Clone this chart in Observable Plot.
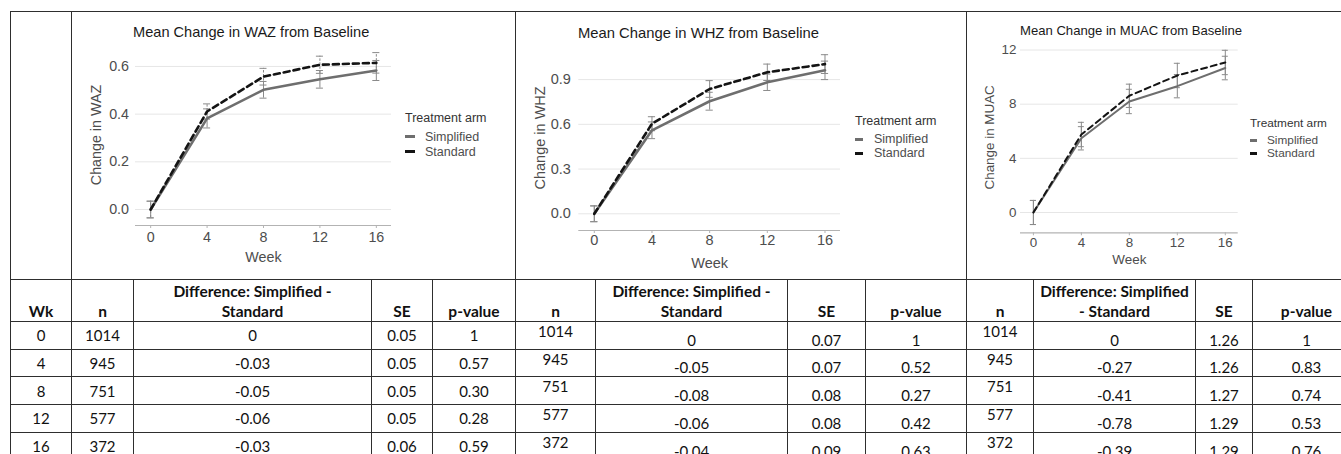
<!DOCTYPE html>
<html>
<head>
<meta charset="utf-8">
<script src="https://cdn.jsdelivr.net/npm/d3@7"></script>
<script src="https://cdn.jsdelivr.net/npm/@observablehq/plot@0.6"></script>
<style>
html, body { margin: 0; padding: 0; background: #fff; }
#page { position: relative; width: 1341px; height: 454px; overflow: hidden; background: #fff; }
table.grid { position: absolute; left: 10px; top: 11px; border-collapse: collapse; table-layout: fixed;
  font-family: Lato, "Open Sans", sans-serif; color: #111; }
table.grid td { border: 1px solid #2e2e2e; padding: 0; text-align: center; font-size: 15px; line-height: 18px; overflow: hidden; white-space: nowrap; }
table.grid tr.head td { font-weight: bold; vertical-align: bottom; line-height: 20px; font-size: 15.5px; }
table.grid td.mid { vertical-align: middle; }
table.grid td.top { vertical-align: top; }
table.grid td.bot { vertical-align: bottom; }
.chart { position: absolute; }
.chart svg { display: block; background: transparent; }
.ctitle { position: absolute; font-family: "Liberation Sans", Arial, sans-serif; color: #1a1a1a; line-height: 18px; white-space: nowrap; }
.legend { position: absolute; font-family: "Liberation Sans", Arial, sans-serif; white-space: nowrap; }
.legend .lt { color: #333; }
.legend .li { color: #4d4d4d; display: flex; align-items: center; }
.legend .key { display: inline-block; }
</style>
</head>
<body>
<div id="page"></div>
<script>
// ---------- data ----------
const weeks = [0, 4, 8, 12, 16];
const arms = ["Simplified", "Standard"];

const wazSimplified    = [0, 0.382, 0.502, 0.546, 0.583];
const wazStandard      = [0, 0.411, 0.557, 0.607, 0.615];
const wazSimplifiedErr = [0.035, 0.040, 0.035, 0.037, 0.042];
const wazStandardErr   = [0.035, 0.032, 0.035, 0.036, 0.043];
const wazTicks = [0, 0.2, 0.4, 0.6];

const whzSimplified    = [0, 0.560, 0.755, 0.882, 0.962];
const whzStandard      = [0, 0.604, 0.837, 0.949, 1.004];
const whzSimplifiedErr = [0.053, 0.056, 0.060, 0.055, 0.062];
const whzStandardErr   = [0.053, 0.047, 0.056, 0.055, 0.063];
const whzTicks = [0, 0.3, 0.6, 0.9];

const muacSimplified    = [0, 5.48, 8.20, 9.33, 10.67];
const muacStandard      = [0, 5.76, 8.62, 10.12, 11.08];
const muacSimplifiedErr = [0.89, 0.86, 0.90, 0.86, 0.87];
const muacStandardErr   = [0.89, 0.90, 0.86, 0.90, 0.90];
const muacTicks = [0, 4, 8, 12];

// table
const tableWeeks = ["0", "4", "8", "12", "16"];
const nCounts = ["1014", "945", "751", "577", "372"];
const wazDiff = ["0", "-0.03", "-0.05", "-0.06", "-0.03"];
const wazSE   = ["0.05", "0.05", "0.05", "0.05", "0.06"];
const wazP    = ["1", "0.57", "0.30", "0.28", "0.59"];
const whzDiff = ["0", "-0.05", "-0.08", "-0.06", "-0.04"];
const whzSE   = ["0.07", "0.07", "0.08", "0.08", "0.09"];
const whzP    = ["1", "0.52", "0.27", "0.42", "0.63"];
const muacDiff = ["0", "-0.27", "-0.41", "-0.78", "-0.39"];
const muacSE   = ["1.26", "1.26", "1.27", "1.29", "1.29"];
const muacP    = ["1", "0.83", "0.74", "0.53", "0.76"];

const headWk = "Wk", headN = "n", headSE = "SE", headP = "p-value";
const headDiffA = ["Difference: Simplified -", "Standard"];
const headDiffB = ["Difference: Simplified", "- Standard"];

// ---------- layout ----------
const colWidths = [61, 62, 238, 61, 83, 80, 192, 78, 101, 67, 162, 57, 108];
const page = document.getElementById("page");

const table = document.createElement("table");
table.className = "grid";
table.style.width = colWidths.reduce((a, b) => a + b, 0) + "px";
const cg = document.createElement("colgroup");
colWidths.forEach(w => { const c = document.createElement("col"); c.style.width = w + "px"; cg.appendChild(c); });
table.appendChild(cg);

function tr(h, cls) { const r = document.createElement("tr"); r.style.height = h + "px"; if (cls) r.className = cls; table.appendChild(r); return r; }
function td(r, html, cls, span) { const c = document.createElement("td"); c.innerHTML = html; if (cls) c.className = cls; if (span) c.colSpan = span; r.appendChild(c); return c; }

const r0 = tr(268);
td(r0, ""); td(r0, "", null, 4); td(r0, "", null, 4); td(r0, "", null, 4);

const rh = tr(42, "head");
td(rh, headWk);
td(rh, headN); td(rh, headDiffA.join("<br>")); td(rh, headSE); td(rh, headP);
td(rh, headN); td(rh, headDiffA.join("<br>")); td(rh, headSE); td(rh, headP);
td(rh, headN); td(rh, headDiffB.join("<br>")); td(rh, headSE); td(rh, headP);

const rowH = [27.5, 27.7, 27.7, 27.7, 28];
tableWeeks.forEach((wk, i) => {
  const r = tr(rowH[i]);
  td(r, wk, "mid");
  td(r, nCounts[i], "mid"); td(r, wazDiff[i], "mid"); td(r, wazSE[i], "mid"); td(r, wazP[i], "mid");
  td(r, nCounts[i], "top"); td(r, whzDiff[i], "bot"); td(r, whzSE[i], "bot"); td(r, whzP[i], "bot");
  td(r, nCounts[i], "top"); td(r, muacDiff[i], "bot"); td(r, muacSE[i], "bot"); td(r, muacP[i], "bot");
});
page.appendChild(table);

// ---------- charts ----------
const charts = [
  {
    title: "Mean Change in WAZ from Baseline", ylabel: "Change in WAZ",
    simp: wazSimplified, std: wazStandard, simpErr: wazSimplifiedErr, stdErr: wazStandardErr,
    ticks: wazTicks, fmt: d3.format(".1f"), ydomain: [-0.067, 0.692], stdErrDash: "2.5,1.5",
    left: 72, top: 12, width: 330, height: 266, ml: 63, mr: 11, mt: 32, mb: 53,
    font: 14.3, yPad: 6.5, xTickPad: 3, yLabelOffset: 45, xLabelOffset: 36, lineW: 2.6,
    titleLeft: 133, titleTop: 22.5, titleSize: 14.6,
    legLeft: 405, legTop: 110, legSize: 12.5, legRow: 15, keyW: 10, textGap: 10
  },
  {
    title: "Mean Change in WHZ from Baseline", ylabel: "Change in WHZ",
    simp: whzSimplified, std: whzStandard, simpErr: whzSimplifiedErr, stdErr: whzStandardErr,
    ticks: whzTicks, fmt: d3.format(".1f"), ydomain: [-0.112, 1.13], stdErrDash: null,
    left: 516, top: 12, width: 334, height: 266, ml: 62.3, mr: 10, mt: 32.8, mb: 48,
    font: 14.5, yPad: 8, xTickPad: 1.5, yLabelOffset: 44.3, xLabelOffset: 37, lineW: 2.6,
    titleLeft: 578, titleTop: 23.8, titleSize: 14.8,
    legLeft: 855, legTop: 113, legSize: 12.5, legRow: 14.3, keyW: 8, textGap: 11
  },
  {
    title: "Mean Change in MUAC from Baseline", ylabel: "Change in MUAC",
    simp: muacSimplified, std: muacStandard, simpErr: muacSimplifiedErr, stdErr: muacStandardErr,
    ticks: muacTicks, fmt: d3.format("d"), ydomain: [-1.5, 12.6], stdErrDash: null,
    left: 967, top: 12, width: 281, height: 266, ml: 53, mr: 10.3, mt: 29.4, mb: 45.7,
    font: 13.4, yPad: 4, xTickPad: 2, yLabelOffset: 36, xLabelOffset: 31, lineW: 2,
    titleLeft: 1020, titleTop: 21.6, titleSize: 13.1,
    legLeft: 1250, legTop: 114.5, legSize: 11.8, legRow: 13.3, keyW: 7, textGap: 10
  }
];

const cap = 0.25;

charts.forEach(c => {
  const rows = weeks.flatMap((w, i) => [
    {week: w, arm: arms[0], mean: c.simp[i], err: c.simpErr[i]},
    {week: w, arm: arms[1], mean: c.std[i], err: c.stdErr[i]}
  ]);
  const simp = rows.filter(d => d.arm === arms[0]);
  const std = rows.filter(d => d.arm === arms[1]);
  const ebColor = "#8a8a8a";
  const errorBars = (data, dash) => [
    Plot.ruleX(data, {x: "week", y1: d => d.mean - d.err, y2: d => d.mean + d.err, stroke: ebColor, strokeWidth: 1, strokeDasharray: dash}),
    Plot.ruleY(data, {y: d => d.mean - d.err, x1: d => d.week - cap, x2: d => d.week + cap, stroke: ebColor, strokeWidth: 1}),
    Plot.ruleY(data, {y: d => d.mean + d.err, x1: d => d.week - cap, x2: d => d.week + cap, stroke: ebColor, strokeWidth: 1})
  ];
  const svg = Plot.plot({
    width: c.width, height: c.height,
    marginLeft: c.ml, marginRight: c.mr, marginTop: c.mt, marginBottom: c.mb,
    style: {fontFamily: "'Liberation Sans', Arial, sans-serif", fontSize: c.font + "px", background: "transparent", color: "#4d4d4d"},
    x: {domain: [-1.075, 17.075]},
    y: {domain: c.ydomain},
    marks: [
      Plot.gridY(c.ticks, {stroke: "#e6e6e6", strokeOpacity: 1, strokeWidth: 1}),
      Plot.ruleY([c.ydomain[0]], {stroke: "#b3b3b3", strokeWidth: 1.2}),
      Plot.axisY({ticks: c.ticks, tickFormat: c.fmt, tickSize: 0, tickPadding: c.yPad, fontSize: c.font, fill: "#4d4d4d",
        label: c.ylabel, labelAnchor: "center", labelArrow: "none", labelOffset: c.yLabelOffset}),
      Plot.axisX({ticks: weeks, tickFormat: d3.format("d"), tickSize: 3, tickPadding: c.xTickPad, stroke: "#b3b3b3", fontSize: c.font, fill: "#4d4d4d",
        label: "Week", labelAnchor: "center", labelArrow: "none", labelOffset: c.xLabelOffset}),
      ...errorBars(simp, null),
      ...errorBars(std, c.stdErrDash),
      Plot.line(simp, {x: "week", y: "mean", stroke: "#6e6e6e", strokeWidth: c.lineW}),
      Plot.line(std, {x: "week", y: "mean", stroke: "#141414", strokeWidth: c.lineW, strokeDasharray: "6,4"})
    ]
  });
  const box = document.createElement("div");
  box.className = "chart";
  box.style.left = c.left + "px"; box.style.top = c.top + "px";
  box.appendChild(svg);
  page.appendChild(box);

  const t = document.createElement("div");
  t.className = "ctitle";
  t.style.left = c.titleLeft + "px"; t.style.top = c.titleTop + "px"; t.style.fontSize = c.titleSize + "px";
  t.textContent = c.title;
  page.appendChild(t);

  const lg = document.createElement("div");
  lg.className = "legend";
  lg.style.left = c.legLeft + "px"; lg.style.top = c.legTop + "px"; lg.style.fontSize = c.legSize + "px";
  const lt = document.createElement("div");
  lt.className = "lt"; lt.textContent = "Treatment arm"; lt.style.lineHeight = "16px"; lt.style.marginBottom = "3px";
  lg.appendChild(lt);
  [["Simplified", "#6e6e6e"], ["Standard", "#141414"]].forEach(([name, col]) => {
    const li = document.createElement("div");
    li.className = "li"; li.style.height = c.legRow + "px";
    const k = document.createElement("span");
    k.className = "key"; k.style.width = c.keyW + "px"; k.style.height = "3px"; k.style.background = col; k.style.marginRight = c.textGap + "px";
    const s = document.createElement("span"); s.textContent = name;
    li.appendChild(k); li.appendChild(s);
    lg.appendChild(li);
  });
  page.appendChild(lg);
});
</script>
</body>
</html>
